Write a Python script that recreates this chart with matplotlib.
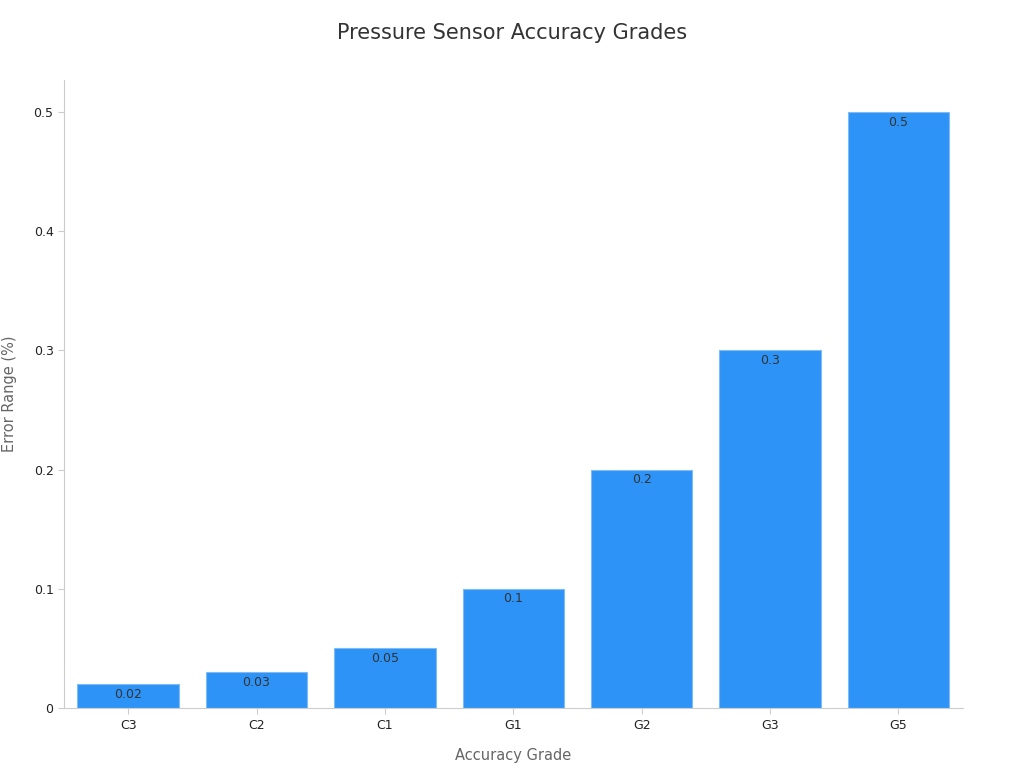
import matplotlib
matplotlib.use("Agg")
import matplotlib.pyplot as plt

grades = ["C3", "C2", "C1", "G1", "G2", "G3", "G5"]
errors = [0.02, 0.03, 0.05, 0.1, 0.2, 0.3, 0.5]
value_labels = ["0.02", "0.03", "0.05", "0.1", "0.2", "0.3", "0.5"]

fig = plt.figure(figsize=(10.24, 7.68), dpi=100)
ax = fig.add_axes([0.0625, 0.078, 0.8775, 0.818])

bars = ax.bar(range(len(grades)), errors, width=0.79, color="#2E93F7",
              edgecolor="#7FBBF5", linewidth=0.8)
for b, lab in zip(bars, value_labels):
    ax.text(b.get_x() + b.get_width() / 2, b.get_height() - 0.003, lab,
            ha="center", va="top", fontsize=9, color="#333333")

ax.set_xlim(-0.5, 6.5)
ax.set_ylim(0, 0.527)
ax.set_xticks(range(len(grades)))
ax.set_xticklabels(grades)
ax.set_yticks([0, 0.1, 0.2, 0.3, 0.4, 0.5])
ax.set_yticklabels(["0", "0.1", "0.2", "0.3", "0.4", "0.5"])
ax.tick_params(labelsize=9, colors="#222222", length=4)
ax.tick_params(axis="both", color="#cccccc")
for s in ["top", "right"]:
    ax.spines[s].set_visible(False)
for s in ["left", "bottom"]:
    ax.spines[s].set_color("#cccccc")

ax.set_xlabel("Accuracy Grade", fontsize=10.5, color="#666666", labelpad=12)
ax.set_ylabel("Error Range (%)", fontsize=10.5, color="#666666", labelpad=12)
fig.suptitle("Pressure Sensor Accuracy Grades", fontsize=15, color="#333333", y=0.97)

fig.savefig("out.png", dpi=100)
